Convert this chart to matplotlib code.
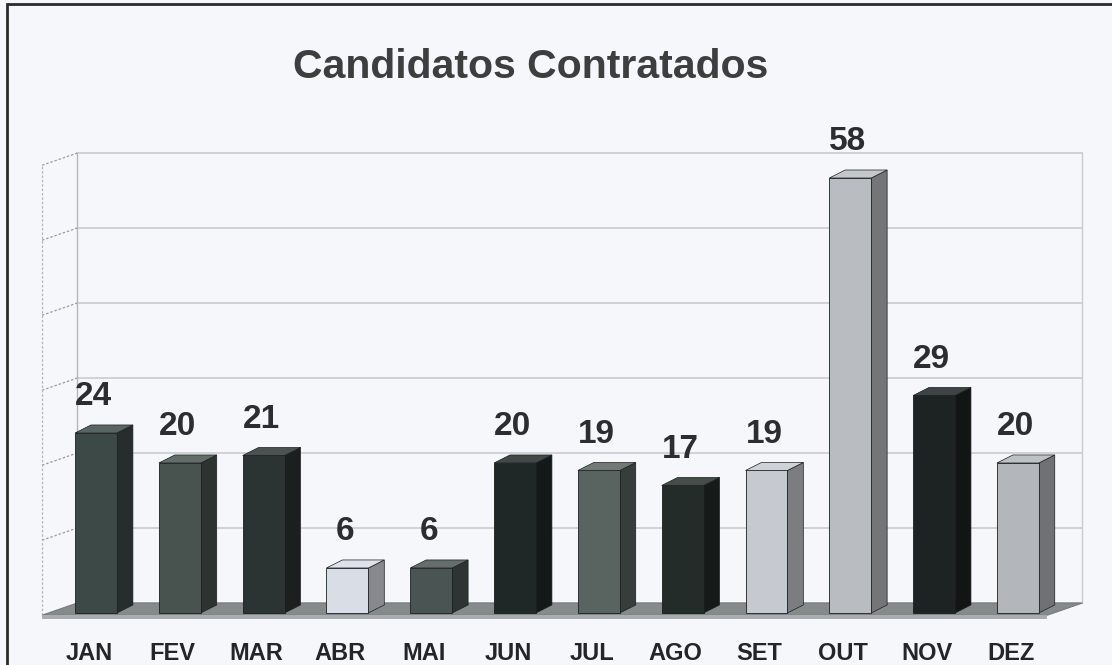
import numpy as np
import matplotlib
matplotlib.use('Agg')
import matplotlib.pyplot as plt
import matplotlib.transforms as mtransforms
from matplotlib.patches import Polygon, Rectangle

# data
meses   = ['JAN', 'FEV', 'MAR', 'ABR', 'MAI', 'JUN', 'JUL', 'AGO', 'SET', 'OUT', 'NOV', 'DEZ']
valores = [24, 20, 21, 6, 6, 20, 19, 17, 19, 58, 29, 20]
cores   = ['#3d4947', '#48524f', '#2b3432', '#d9dde6', '#4a5452', '#1f2826',
           '#59635f', '#242c2a', '#c6cad0', '#b9bdc2', '#1c2322', '#b3b7bb']
grade   = [10, 20, 30, 40, 50, 60]

plt.rcParams['font.family'] = ['Liberation Sans', 'DejaVu Sans']

W, H = 1112, 665
fig = plt.figure(figsize=(W/100., H/100.), dpi=100)
fig.patch.set_facecolor('#f6f7fa')

# axes placed so category i sits at its column and 1 unit = 7.5 px
ax = fig.add_axes([20./W, 35./H, 1080./W, 535./H])
ax.set_xlim(-0.907, 11.98)
ax.set_ylim(-2.27, 69.07)
ax.set_facecolor('none')
for s in ax.spines.values():
  s.set_visible(False)
ax.set_yticks([])

# 3d depth offsets (data units)
wdx, wdy = 0.42, 1.63     # wall / floor depth
bdx, bdy = 0.19, 1.07     # bar depth
bw = 0.5
x0f, x1f = -0.644, 11.35  # floor front edge
yf = -0.3

# back wall + left wall grid
for g in grade + [0]:
  ax.plot([x0f + wdx, x1f + wdx], [g + yf + wdy]*2, color='#c9cbcd', lw=1.2, zorder=1)
  if g > 0:
    ax.plot([x0f, x0f + wdx], [g + yf, g + yf + wdy], color='#9a9c9e', lw=0.9,
            ls=(0, (2, 1.5)), zorder=1)
ax.plot([x0f, x0f], [yf, grade[-1] + yf], color='#b5b7b9', lw=0.9, ls=(0, (2, 1.5)), zorder=1)
ax.plot([x0f + wdx]*2, [yf + wdy, grade[-1] + yf + wdy], color='#b5b7b9', lw=1.0, zorder=1)
ax.plot([x1f + wdx]*2, [yf + wdy, grade[-1] + yf + wdy], color='#c9cbcd', lw=1.0, zorder=1)

# floor slab
ax.add_patch(Polygon([(x0f, yf), (x1f, yf), (x1f + wdx, yf + wdy), (x0f + wdx, yf + wdy)],
                     closed=True, fc='#858b8b', ec='#767c7c', lw=0.8, zorder=2))
ax.add_patch(Polygon([(x0f, yf), (x1f, yf), (x1f, yf - 0.45), (x0f, yf - 0.45)],
                     closed=True, fc='#a9adad', ec='none', zorder=2))

def escurece(c, f):
  rgb = np.array(matplotlib.colors.to_rgb(c))
  return tuple(rgb*f)

def clareia(c, f):
  rgb = np.array(matplotlib.colors.to_rgb(c))
  return tuple(rgb + (1 - rgb)*f)

x = np.arange(len(meses))
ax.bar(x, valores, width=bw, color=cores, edgecolor='#1a1f1e', linewidth=0.6, zorder=4)
for i, v in enumerate(valores):
  xr = i + bw/2.
  xl = i - bw/2.
  ax.add_patch(Polygon([(xr, 0), (xr + bdx, bdy), (xr + bdx, v + bdy), (xr, v)],
                       closed=True, fc=escurece(cores[i], 0.62), ec='#1a1f1e', lw=0.5, zorder=3))
  ax.add_patch(Polygon([(xl, v), (xr, v), (xr + bdx, v + bdy), (xl + bdx, v + bdy)],
                       closed=True, fc=clareia(cores[i], 0.15), ec='#1a1f1e', lw=0.5, zorder=5))
  ax.text(i - 0.03, v + bdy + 2.6, str(v), ha='center', va='baseline',
          fontsize=24, fontweight='bold', color='#2a2e2e', zorder=6)

ax.set_xticks(x)
ax.set_xticklabels(meses, fontsize=17, fontweight='bold', color='#222626')
ax.tick_params(axis='x', length=0, pad=9)
desloc = mtransforms.ScaledTranslation(-7/100., 0, fig.dpi_scale_trans)
for lab in ax.get_xticklabels():
  lab.set_transform(lab.get_transform() + desloc)

fig.text(531./W, 1 - 78./H, 'Candidatos Contratados', ha='center', va='baseline',
         fontsize=29.5, fontweight='bold', color='#3b403f')

# scanned page border
fig.patches.append(Rectangle((7./W, -0.05), 1.1, 1 - 4./H + 0.05, transform=fig.transFigure,
                             fill=False, ec='#2a2a2a', lw=2.0))

plt.savefig('out.png', dpi=100, facecolor=fig.get_facecolor())
